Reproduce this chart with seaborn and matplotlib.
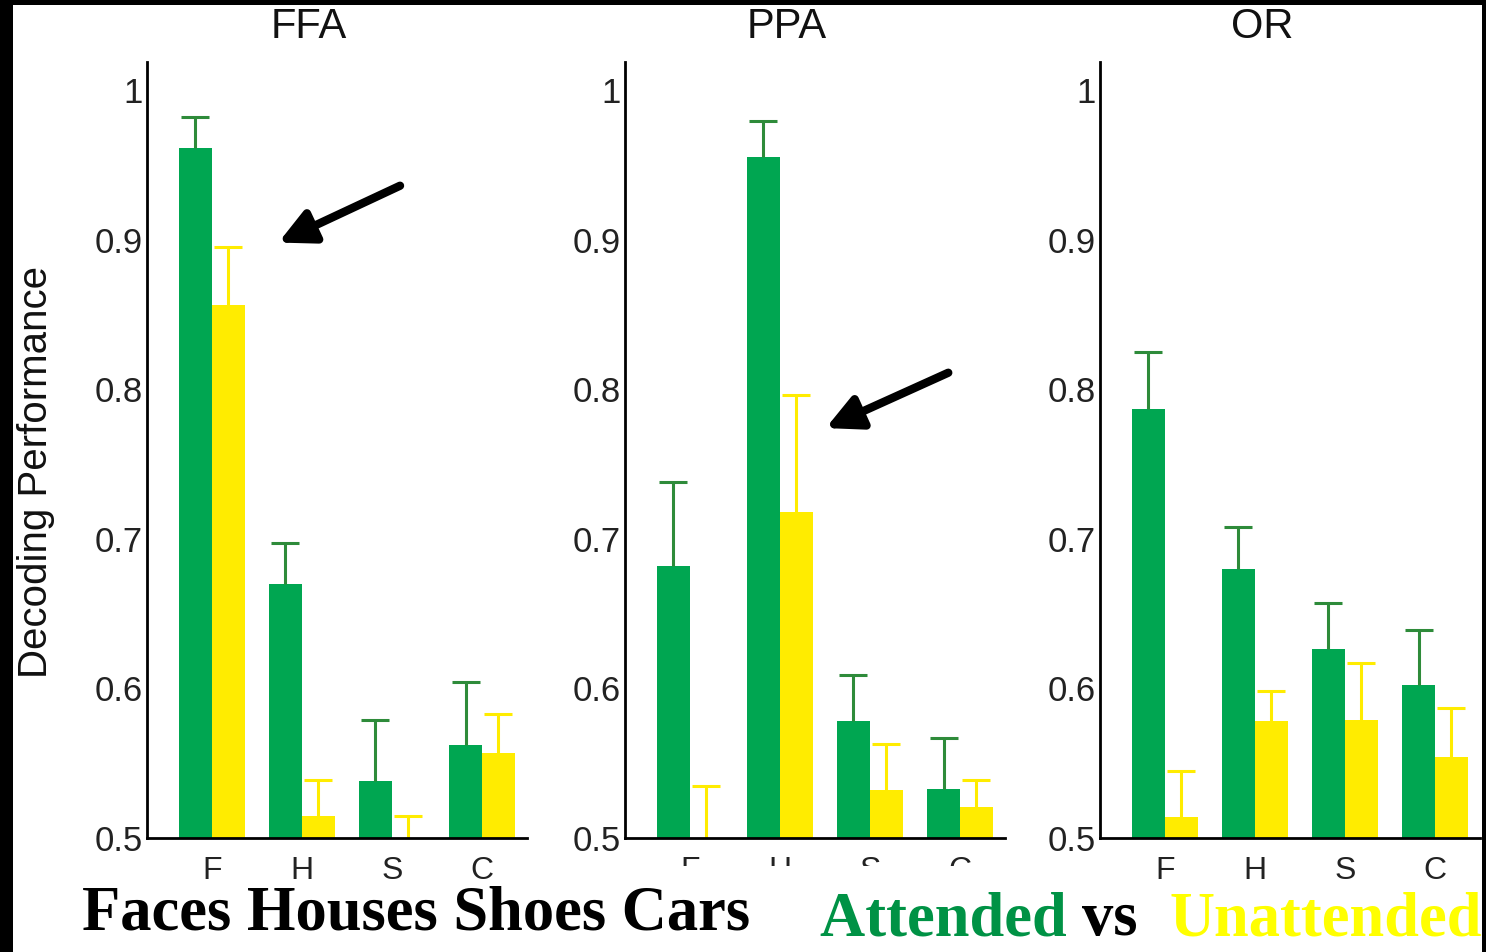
import matplotlib
matplotlib.use("Agg")
import matplotlib.pyplot as plt
import seaborn as sns
import pandas as pd
from matplotlib.patches import Rectangle

# data
regions = ["FFA", "PPA", "OR"]
categories = ["F", "H", "S", "C"]
conditions = ["Attended", "Unattended"]

ffa_attended = [0.961, 0.670, 0.538, 0.562]
ffa_attended_err = [0.021, 0.027, 0.041, 0.042]
ffa_unattended = [0.856, 0.515, 0.500, 0.557]
ffa_unattended_err = [0.039, 0.024, 0.015, 0.026]

ppa_attended = [0.682, 0.955, 0.578, 0.533]
ppa_attended_err = [0.056, 0.024, 0.031, 0.034]
ppa_unattended = [0.500, 0.718, 0.532, 0.521]
ppa_unattended_err = [0.035, 0.078, 0.031, 0.018]

or_attended = [0.787, 0.680, 0.626, 0.602]
or_attended_err = [0.038, 0.028, 0.031, 0.037]
or_unattended = [0.514, 0.578, 0.579, 0.554]
or_unattended_err = [0.031, 0.020, 0.038, 0.033]

yticks = [0.5, 0.6, 0.7, 0.8, 0.9, 1.0]
yticklabels = ["0.5", "0.6", "0.7", "0.8", "0.9", "1"]

green = "#00a651"
green_err = "#2e8b3a"
yellow = "#ffec00"

panels = {
    "FFA": (ffa_attended, ffa_attended_err, ffa_unattended, ffa_unattended_err),
    "PPA": (ppa_attended, ppa_attended_err, ppa_unattended, ppa_unattended_err),
    "OR": (or_attended, or_attended_err, or_unattended, or_unattended_err),
}

sns.set_style("white")
plt.rcParams["font.family"] = ["Liberation Sans", "DejaVu Sans"]

fig = plt.figure(figsize=(14.86, 9.52), dpi=100)
fig.patch.set_facecolor("black")
fig.add_artist(Rectangle((13 / 1486, 0), (1482 - 13) / 1486, 1 - 5 / 952,
                         transform=fig.transFigure, facecolor="white",
                         edgecolor="none", zorder=-5))

lefts = [147, 625, 1100]
arrows = {"FFA": ((2.09, 0.936), (0.74, 0.898)),
          "PPA": ((2.87, 0.811), (1.51, 0.774))}

for left, region in zip(lefts, regions):
    att, att_err, un, un_err = panels[region]
    df = pd.DataFrame({
        "category": categories * 2,
        "condition": [conditions[0]] * 4 + [conditions[1]] * 4,
        "value": att + un,
    })
    ax = fig.add_axes([left / 1486, 1 - 838 / 952, 380 / 1486, 776 / 952])
    ax.set_facecolor("white")
    sns.barplot(data=df, x="category", y="value", hue="condition",
                palette=[green, yellow], width=0.73, errorbar=None,
                saturation=1, legend=False, linewidth=0, ax=ax)
    for cont, errs, ecol in zip(ax.containers, [att_err, un_err], [green_err, yellow]):
        xs = [p.get_x() + p.get_width() / 2 for p in cont.patches]
        hs = [p.get_height() for p in cont.patches]
        eb = ax.errorbar(xs, hs, yerr=[[0] * len(errs), errs], fmt="none",
                         ecolor=ecol, elinewidth=2.2, capsize=10, capthick=2.2,
                         zorder=1)
        eb[1][0].set_visible(False)  # one-sided: no cap at the bar top
    ax.set_ylim(0.5, 1.0187)
    ax.set_xlim(-0.72, 3.5)
    ax.set_yticks(yticks)
    ax.set_yticklabels(yticklabels)
    ax.set_xlabel("")
    ax.set_ylabel("")
    ax.tick_params(axis="y", direction="in", length=5, width=1, pad=3,
                   labelsize=25, colors="#222222")
    ax.tick_params(axis="x", length=0, pad=13, labelsize=23, colors="#222222")
    sns.despine(ax=ax)
    for s in ["left", "bottom"]:
        ax.spines[s].set_color("black")
        ax.spines[s].set_linewidth(2)
    ax.text(0.4265, 1 + 35 / 776, region, transform=ax.transAxes,
            ha="center", va="center", fontsize=30, color="#111111")
    if region in arrows:
        start, end = arrows[region]
        ax.annotate("", xy=end, xytext=start,
                    arrowprops=dict(arrowstyle="-|>", lw=6, color="black",
                                    mutation_scale=52, shrinkA=0, shrinkB=0),
                    annotation_clip=False, zorder=6)

fig.text(36 / 1486, 1 - 472 / 952, "Decoding Performance", rotation=90,
         ha="center", va="center", fontsize=29, color="#111111")

# white box hiding the lower part of the middle tick labels
fig.add_artist(Rectangle((560 / 1486, 0), (1010 - 560) / 1486, 1 - 866 / 952,
                         transform=fig.transFigure, facecolor="white",
                         edgecolor="none", zorder=3))

serif = ["Liberation Serif", "DejaVu Serif"]
fig.text(82 / 1486, 1 - 914 / 952, "Faces Houses Shoes Cars", ha="left",
         va="center", fontsize=45, fontweight="bold", family=serif,
         color="black", zorder=4)
t1 = fig.text(820 / 1486, 1 - 920 / 952, "Attended ", ha="left", va="center",
              fontsize=45, fontweight="bold", family=serif, color="#009245", zorder=4)
fig.canvas.draw()
bb = t1.get_window_extent()
t2 = fig.text(bb.x1 / 1486, 1 - 920 / 952, "vs  ", ha="left", va="center",
              fontsize=45, fontweight="bold", family=serif, color="black", zorder=4)
bb2 = t2.get_window_extent()
fig.text(bb2.x1 / 1486, 1 - 920 / 952, "Unattended", ha="left", va="center",
         fontsize=45, fontweight="bold", family=serif, color="#ffff00", zorder=4)

fig.savefig("out.png", dpi=100, facecolor=fig.get_facecolor())
